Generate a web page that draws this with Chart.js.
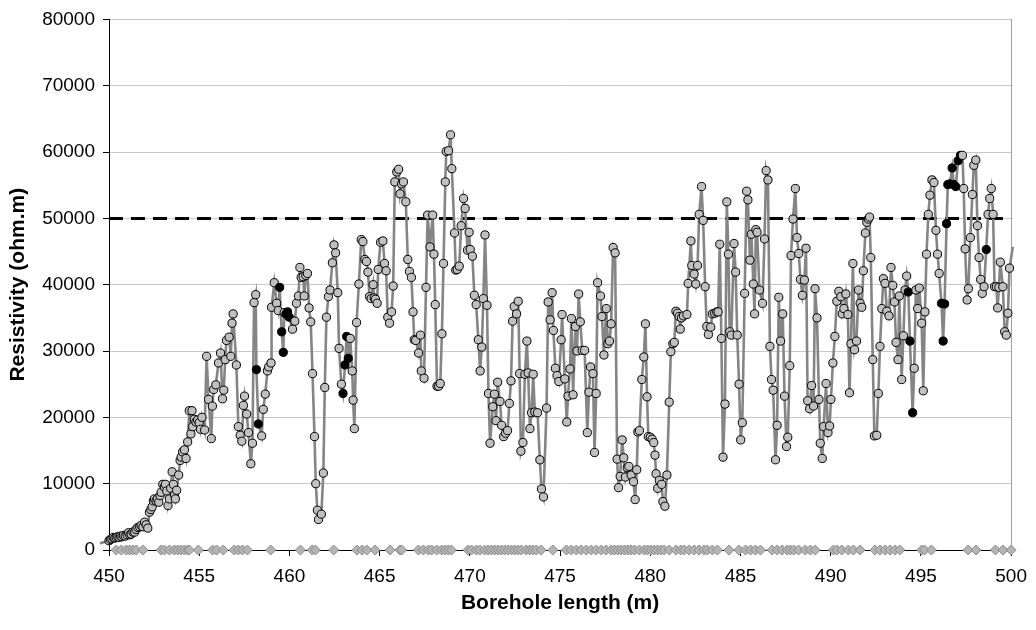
<!DOCTYPE html>
<html>
<head>
<meta charset="utf-8">
<script src="https://cdn.jsdelivr.net/npm/chart.js@4.4.0/dist/chart.umd.min.js"></script>
<style>
  html, body { margin: 0; padding: 0; background: #fff; }
</style>
</head>
<body>
<canvas id="resistivityChart" width="1036" height="630"></canvas>
<script>
// borehole depth (m) of each reading, in logging order
const depthM = [
  // 449.5 - 458.3
  449.5, 450.0, 450.08, 450.16, 450.24, 450.32, 450.4, 450.48, 450.56, 450.64,
  450.72, 450.8, 450.9, 451.0, 451.08, 451.16, 451.23, 451.33, 451.42, 451.5,
  451.6, 451.7, 451.78, 451.88, 451.97, 452.06, 452.15, 452.24, 452.32, 452.39,
  452.46, 452.52, 452.61, 452.68, 452.76, 452.83, 452.89, 452.98, 453.07, 453.13,
  453.2, 453.27, 453.35, 453.42, 453.5, 453.57, 453.63, 453.68, 453.75, 453.86,
  453.94, 454.0, 454.08, 454.18, 454.27, 454.36, 454.45, 454.54, 454.6, 454.64,
  454.73, 454.82, 454.91, 455.0, 455.07, 455.15, 455.3, 455.41, 455.52, 455.67,
  455.73, 455.8, 455.92, 456.07, 456.18, 456.29, 456.36, 456.44, 456.51, 456.66,
  456.75, 456.82, 456.88, 457.06, 457.17, 457.27, 457.36, 457.45, 457.51, 457.63,
  457.73, 457.86, 457.95, 458.04, 458.13, 458.17, 458.28,
  // 458.4 - 468.2
  458.46, 458.55, 458.66, 458.78, 458.85, 458.98, 459.01, 459.16, 459.29, 459.38,
  459.46, 459.57, 459.66, 459.71, 459.81, 459.9, 459.99, 460.17, 460.3, 460.39,
  460.5, 460.58, 460.65, 460.76, 460.82, 460.91, 461.0, 461.09, 461.18, 461.28,
  461.39, 461.46, 461.55, 461.61, 461.77, 461.88, 461.96, 462.05, 462.16, 462.25,
  462.38, 462.47, 462.56, 462.68, 462.75, 462.88, 462.97, 463.08, 463.17, 463.26,
  463.37, 463.48, 463.53, 463.6, 463.72, 463.85, 463.98, 464.07, 464.18, 464.27,
  464.35, 464.44, 464.53, 464.64, 464.7, 464.77, 464.86, 464.92, 465.05, 465.18,
  465.27, 465.36, 465.45, 465.55, 465.66, 465.75, 465.84, 465.95, 466.05, 466.13,
  466.22, 466.32, 466.45, 466.56, 466.65, 466.76, 466.85, 466.92, 467.0, 467.16,
  467.26, 467.31, 467.46, 467.57, 467.66, 467.79, 467.94, 468.01, 468.08, 468.18,
  // 468.3 - 477.1
  468.27, 468.36, 468.45, 468.54, 468.64, 468.69, 468.82, 468.93, 469.0, 469.15,
  469.22, 469.3, 469.41, 469.52, 469.65, 469.74, 469.87, 469.96, 470.02, 470.14,
  470.25, 470.35, 470.47, 470.57, 470.66, 470.75, 470.84, 470.95, 471.03, 471.12,
  471.27, 471.36, 471.45, 471.54, 471.67, 471.76, 471.87, 471.98, 472.09, 472.19,
  472.28, 472.37, 472.46, 472.59, 472.68, 472.76, 472.83, 472.94, 473.05, 473.16,
  473.23, 473.33, 473.42, 473.51, 473.6, 473.75, 473.88, 473.97, 474.08, 474.25,
  474.34, 474.45, 474.56, 474.63, 474.74, 474.83, 474.93, 475.06, 475.11, 475.26,
  475.37, 475.44, 475.55, 475.63, 475.72, 475.85, 475.94, 476.03, 476.12, 476.23,
  476.36, 476.51, 476.6, 476.69, 476.82, 476.91, 477.0, 477.08,
  // 477.2 - 486.1
  477.24, 477.32, 477.43, 477.56, 477.65, 477.74, 477.83, 477.94, 478.05, 478.16,
  478.24, 478.33, 478.44, 478.53, 478.62, 478.72, 478.81, 478.94, 479.07, 479.16,
  479.25, 479.31, 479.4, 479.53, 479.64, 479.73, 479.82, 479.89, 480.0, 480.1,
  480.19, 480.26, 480.32, 480.41, 480.5, 480.63, 480.7, 480.81, 480.92, 481.05,
  481.14, 481.25, 481.33, 481.42, 481.51, 481.6, 481.66, 481.73, 481.84, 482.03,
  482.1, 482.25, 482.3, 482.43, 482.52, 482.62, 482.71, 482.84, 482.93, 483.04,
  483.13, 483.22, 483.35, 483.44, 483.57, 483.68, 483.76, 483.85, 483.94, 484.03,
  484.14, 484.24, 484.33, 484.4, 484.49, 484.64, 484.73, 484.82, 484.92, 485.01,
  485.1, 485.23, 485.34, 485.41, 485.52, 485.6, 485.71, 485.78, 485.85, 485.92,
  486.05,
  // 486.2 - 493.0
  486.22, 486.33, 486.42, 486.52, 486.63, 486.72, 486.81, 486.94, 487.03, 487.12,
  487.22, 487.34, 487.44, 487.55, 487.62, 487.73, 487.8, 487.91, 488.04, 488.13,
  488.23, 488.32, 488.43, 488.54, 488.63, 488.72, 488.83, 488.94, 489.05, 489.13,
  489.24, 489.35, 489.42, 489.53, 489.61, 489.74, 489.85, 489.94, 490.01, 490.12,
  490.23, 490.34, 490.45, 490.56, 490.64, 490.73, 490.84, 490.95, 491.04, 491.12,
  491.23, 491.32, 491.43, 491.54, 491.63, 491.72, 491.81, 491.92, 492.0, 492.09,
  492.15, 492.22, 492.33, 492.42, 492.55, 492.64, 492.73, 492.83, 492.92, 493.01,
  // 493.1 - 500.5
  493.11, 493.23, 493.34, 493.44, 493.53, 493.62, 493.73, 493.8, 493.93, 494.03,
  494.12, 494.21, 494.3, 494.39, 494.54, 494.63, 494.72, 494.82, 494.91, 495.04,
  495.13, 495.22, 495.31, 495.41, 495.5, 495.61, 495.72, 495.83, 495.92, 496.01,
  496.14, 496.23, 496.31, 496.42, 496.49, 496.6, 496.73, 496.82, 496.93, 497.06,
  497.19, 497.3, 497.37, 497.45, 497.56, 497.63, 497.74, 497.85, 497.93, 498.04,
  498.13, 498.22, 498.31, 498.4, 498.5, 498.62, 498.72, 498.81, 498.9, 499.0,
  499.08, 499.18, 499.25, 499.32, 499.4, 499.54, 499.64, 499.73, 499.82, 499.91,
  500.09, 500.33, 500.5
];

// resistivity (ohm.m) at each depth above
const resistivity = [
  1000, 1400, 1600, 1700, 1900, 1800, 1900, 2000, 1900, 2100,
  2000, 2200, 2100, 2300, 2600, 2300, 2400, 2700, 2700, 3100,
  3400, 3500, 3700, 3500, 4200, 3800, 3300, 5700, 6100, 6500,
  7400, 7700, 7400, 7700, 7200, 8200, 8700, 9900, 9500, 9900,
  8900, 6700, 7700, 9300, 11800, 9900, 8300, 7700, 9000, 11300,
  13500, 14000, 14800, 15100, 13800, 16300, 21000, 17500, 21000, 18600,
  19700, 19300, 19600, 19200, 18200, 20000, 18100, 29200, 22700, 16800,
  21700, 24200, 24900, 28200, 29700, 22800, 24100, 28700, 31600, 32100,
  29200, 34200, 35600, 27900, 18600, 17300, 16400, 21800, 23200, 20500,
  17700, 13000, 16100, 37300, 38500, 27200, 19000,

  17200, 21200, 23500, 27000, 27600, 28200, 36600, 40300, 37200, 36100,
  39600, 32900, 29800, 35800, 35600, 35900, 35100, 33300, 34500, 37200,
  38300, 42600, 41100, 41200, 38300, 41400, 41700, 36500, 34400, 26600,
  17100, 10000, 6000, 4600, 5400, 11600, 24500, 35100, 38200, 39200,
  43300, 46000, 44800, 38800, 30400, 25000, 23600, 27900, 32200, 28900,
  31900, 27000, 22600, 18300, 34300, 40100, 46800, 46500, 43800, 43500,
  41900, 38200, 37900, 40000, 38000, 37800, 37200, 42300, 46400, 46600,
  43200, 42100, 35100, 34200, 35900, 39800, 55500, 57000, 57400, 53700,
  55200, 55500, 52500, 43800, 42000, 41100, 35900, 31700, 31600, 29700,
  32400, 27000, 25900, 39600, 50500, 45700, 50500, 44600, 37000, 24700,

  24700, 25100, 32600, 43200, 55500, 60100, 60200, 62600, 57500, 47800,
  42200, 42300, 42800, 48900, 53000, 51500, 45200, 47900, 45300, 44300,
  38400, 37000, 31700, 27000, 30600, 37900, 47500, 36900, 23600, 16100,
  21600, 23500, 19500, 25300, 22400, 18800, 17100, 17600, 18000, 22100,
  25500, 34500, 36700, 35600, 37500, 26600, 14900, 16200, 26500, 31500,
  26700, 18300, 20700, 26500, 20800, 20700, 13600, 9200, 8000, 21400,
  37400, 34700, 38800, 33100, 27400, 26300, 25400, 31700, 35500, 25800,
  19300, 23200, 27300, 34900, 23400, 33700, 30000, 38600, 34400, 30100,
  30100, 17700, 23800, 27600, 26600, 14700, 23600, 40300,

  38300, 35200, 29400, 36400, 31100, 31500, 34100, 45600, 44800, 13700,
  9400, 11100, 16600, 13900, 11000, 12400, 12600, 11300, 10300, 7600,
  12100, 17800, 18000, 25700, 29100, 34100, 23100, 17100, 17000, 16700,
  16200, 14300, 11500, 9300, 10500, 9900, 7300, 6600, 11300, 22300,
  29900, 31100, 31300, 36000, 35700, 35200, 33300, 35000, 35300, 35500,
  40200, 46600, 42900, 41600, 40100, 42900, 50600, 54800, 49700, 39700,
  33700, 32500, 33600, 35600, 35700, 35900, 35900, 46100, 31900, 14000,
  22000, 52500, 44600, 32900, 32400, 46200, 41900, 32400, 25000, 16600,
  19200, 38700, 54100, 52800, 43700, 47600, 40100, 35600, 48300, 47900,
  39200,

  37200, 46900, 57200, 55800, 30700, 25700, 24100, 13600, 18800, 38100,
  31500, 35600, 23200, 15600, 17000, 27800, 44400, 49900, 54500, 47100,
  44700, 40800, 38400, 40700, 45500, 22500, 21300, 24800, 21700, 39400,
  35000, 22700, 16100, 13800, 18600, 25100, 17700, 18700, 22700, 28200,
  32200, 37500, 39000, 38200, 35600, 36400, 38600, 35500, 23700, 31100,
  43200, 30200, 31500, 39200, 37200, 36600, 42100, 47800, 49400, 49900,
  50200, 44100, 28700, 17200, 17300, 23600, 30700, 36400, 40900, 40200,

  36000, 35300, 42600, 39900, 37400, 31300, 28700, 38300, 25700, 32300,
  39200, 41300, 38900, 31500, 20700, 27400, 39200, 36400, 39500, 34200,
  24000, 35900, 44600, 50600, 53500, 55800, 55400, 48200, 44600, 41700,
  37200, 31500, 37100, 49200, 55100, 55200, 57600, 55100, 54800, 58700,
  59500, 59500, 54500, 45400, 37700, 39400, 47100, 53600, 58000, 58800,
  48900, 44100, 40800, 38700, 39700, 45300, 50600, 53000, 54500, 50600,
  39700, 39700, 36500, 39600, 43400, 39700, 32900, 32400, 35700, 42500,
  45700, 28600, 41700
];

// readings drawn with a solid black marker
const blackDepths = [
  458.17, 458.28, 459.46, 459.57, 459.66, 459.81, 459.9, 459.99,
  462.97, 463.08, 463.17, 463.26,
  494.3, 494.39, 494.54, 496.14, 496.23, 496.31, 496.42, 496.49,
  496.6, 496.73, 496.82, 496.93, 497.06, 497.19, 498.62
];

// depths marked on the zero line
const baselineDepths = [
  450.4, 450.68, 450.96, 451.14, 451.32, 451.51, 451.88,
  452.89, 453.07, 453.35, 453.62, 453.81, 453.99, 454.18, 454.36, 454.45, 454.95,
  455.74, 455.96, 456.33, 456.94, 457.17, 457.4, 457.67, 458.96, 460.61,
  461.26, 461.44, 462.45, 463.74, 464.02, 464.29, 464.75, 465.58, 466.13, 466.22,
  467.15, 467.42, 467.7, 467.88, 468.16, 468.43, 468.62, 468.8, 468.98,
  469.9, 470.09, 470.36, 470.55, 470.82, 471.01, 471.19, 471.38, 471.56, 471.74,
  471.93, 472.11, 472.3, 472.48, 472.66, 472.85, 473.12, 473.31, 473.49, 473.68,
  473.95, 474.6, 475.35, 475.62, 475.9, 476.17, 476.45, 476.73, 477.0, 477.28,
  477.55, 477.83, 478.01, 478.2, 478.38, 478.57, 478.75, 478.93, 479.12, 479.39,
  479.67, 479.85, 480.04, 480.22, 480.4, 480.59, 480.77, 481.05, 481.42, 481.69,
  481.88, 482.15, 482.43, 482.7, 482.98, 483.16, 483.44, 483.72,
  484.36, 484.91, 485.28, 485.56, 485.83, 486.11,
  486.75, 487.03, 487.3, 487.58, 487.76, 487.95, 488.22, 488.59, 488.87, 489.14,
  490.15, 490.34, 490.61, 490.98, 491.26, 491.63,
  492.45, 492.73, 493.01, 493.28, 493.56, 493.83,
  495.04, 495.2, 495.58, 497.62, 498.05, 499.13, 499.55, 500.0
];

const limitValue = 50000;
const xTicks = { min: 450, max: 500, step: 5 };
const yTicks = { min: 0, max: 80000, step: 10000 };

// plot box the axes should end up on
const plotBox = { left: 109, right: 1015, top: 19, bottom: 550 };

const FONT = "'Liberation Sans', Arial, sans-serif";

const seriesPoints = depthM.map((d, i) => ({ x: d, y: resistivity[i] }));
const pointFill = depthM.map(d => blackDepths.includes(d) ? '#000000' : '#c0c0c0');
// readings past either end only show as line
const pointSize = depthM.map(d => (d < 450 || d > 500) ? 0 : 4.1);

const ctx = document.getElementById('resistivityChart').getContext('2d');
const chart = new Chart(ctx, {
    type: 'scatter',
    data: {
        datasets: [
            {
                label: 'Resistivity',
                data: seriesPoints,
                showLine: true,
                borderColor: '#858585',
                borderWidth: 2.6,
                tension: 0,
                pointRadius: pointSize,
                pointBackgroundColor: pointFill,
                pointBorderColor: '#000000',
                pointBorderWidth: 1,
                clip: { left: 10, top: 10, right: 11, bottom: 10 },
                order: 1
            },
            {
                label: 'Limit',
                data: [{ x: xTicks.min, y: limitValue }, { x: xTicks.max, y: limitValue }],
                showLine: true,
                borderColor: '#000000',
                borderWidth: 3,
                borderDash: [14, 8],
                pointRadius: 0,
                order: 2
            },
            {
                label: 'Baseline',
                data: baselineDepths.map(d => ({ x: d, y: 0 })),
                showLine: false,
                pointStyle: 'rectRot',
                pointRadius: 5,
                pointBackgroundColor: '#b4b4b4',
                pointBorderColor: '#8c8c8c',
                pointBorderWidth: 1,
                clip: false,
                order: 0
            }
        ]
    },
    options: {
        responsive: false,
        devicePixelRatio: 1,
        animation: false,
        layout: { padding: { left: 0, right: 20, top: 10, bottom: 0 } },
        plugins: {
            legend: { display: false },
            tooltip: { enabled: false }
        },
        scales: {
            x: {
                type: 'linear',
                min: xTicks.min,
                max: xTicks.max,
                afterFit: s => { s.height = 630 - plotBox.bottom; },
                ticks: {
                    stepSize: xTicks.step,
                    color: '#000',
                    font: { family: FONT, size: 19 },
                    padding: 9,
                    maxRotation: 0
                },
                grid: { drawOnChartArea: false, color: '#000', tickLength: 6 },
                border: { color: '#000', width: 1 },
                title: {
                    display: true,
                    text: 'Borehole length (m)',
                    color: '#000',
                    font: { family: FONT, size: 21, weight: 'bold' },
                    padding: { top: 0, bottom: 14 }
                }
            },
            y: {
                type: 'linear',
                min: yTicks.min,
                max: yTicks.max,
                afterFit: s => { s.width = plotBox.left; },
                ticks: {
                    stepSize: yTicks.step,
                    color: '#000',
                    font: { family: FONT, size: 19 },
                    padding: 8,
                    callback: v => String(v)
                },
                grid: {
                    color: c => c.tick && c.tick.value === 0 ? 'rgba(0,0,0,0)' : '#c8c8c8',
                    tickColor: '#000',
                    tickLength: 6
                },
                border: { color: '#000', width: 1 },
                title: {
                    display: true,
                    text: 'Resistivity (ohm.m)',
                    color: '#000',
                    font: { family: FONT, size: 21, weight: 'bold' },
                    padding: { top: 6, bottom: 0 }
                }
            },
            yRight: {
                type: 'linear',
                position: 'right',
                min: yTicks.min,
                max: yTicks.max,
                ticks: { display: false },
                grid: { drawOnChartArea: false, drawTicks: false },
                border: { color: '#a0a0a0', width: 1 }
            }
        }
    }
});

// nudge the padding so the plot area sits on plotBox
const area = chart.chartArea;
chart.options.layout.padding = {
    left: 0,
    bottom: 0,
    top: 10 + (plotBox.top - area.top),
    right: 20 + (area.right - plotBox.right)
};
chart.update('none');
</script>
</body>
</html>
